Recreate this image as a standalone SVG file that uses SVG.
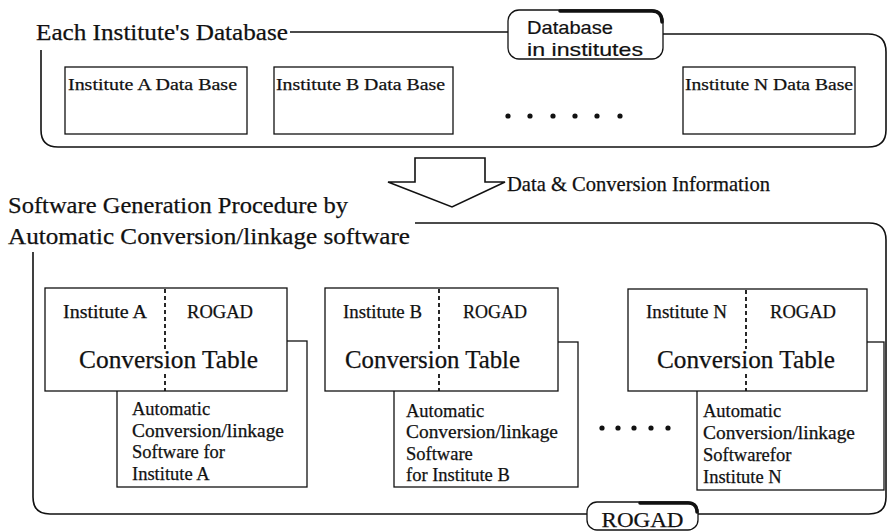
<svg xmlns="http://www.w3.org/2000/svg" width="888" height="532" viewBox="0 0 888 532">
  <style>
    .frame { fill: none; stroke: #111; stroke-width: 1.6; }
    .box { fill: #fff; stroke: #111; stroke-width: 1.3; }
    .thick { fill: none; stroke: #111; stroke-width: 3.5; stroke-linecap: round; }
    .div { fill: none; stroke: #111; stroke-width: 1.8; stroke-dasharray: 4 3; }
    .serif { font-family: "Liberation Serif", "Times New Roman", serif; fill: #111; stroke: #111; stroke-width: 0.25; }
    .sans { font-family: "Liberation Sans", Arial, sans-serif; fill: #111; stroke: #111; stroke-width: 0.2; }
    .title { font-size: 24px; }
    .db { font-size: 17px; }
    .hdr { font-size: 18px; }
    .ct { font-size: 25px; }
    .sw { font-size: 18.5px; }
    .dot { fill: #111; }
  </style>

  <!-- Upper frame: databases held by each institute -->
  <g id="institute-databases">
    <text class="serif title" x="36" y="40" textLength="252" lengthAdjust="spacingAndGlyphs">Each Institute's Database</text>
    <path class="frame" d="M290 32 H508 M663 34 H868 Q886 34 886 52 V130 Q886 147 868 147 H58 Q41 147 41 130 V50"/>
    <g id="label-database-in-institutes">
      <rect class="box" x="508" y="10" width="155" height="49" rx="11"/>
      <path class="thick" d="M560 11 H652 Q662 11 662 22"/>
      <text class="sans" font-size="19" x="527" y="34" textLength="86" lengthAdjust="spacingAndGlyphs">Database</text>
      <text class="sans" font-size="19" x="527" y="56" textLength="116" lengthAdjust="spacingAndGlyphs">in  institutes</text>
    </g>
    <g id="db-a">
      <rect class="box" x="65" y="67" width="182" height="67"/>
      <text class="serif db" x="68" y="90" textLength="169" lengthAdjust="spacingAndGlyphs">Institute A Data Base</text>
    </g>
    <g id="db-b">
      <rect class="box" x="274" y="67" width="179" height="67"/>
      <text class="serif db" x="276" y="90" textLength="169" lengthAdjust="spacingAndGlyphs">Institute B Data Base</text>
    </g>
    <g id="db-ellipsis">
      <circle class="dot" cx="508" cy="116" r="2.6"/>
      <circle class="dot" cx="530" cy="116" r="2.6"/>
      <circle class="dot" cx="553" cy="116" r="2.6"/>
      <circle class="dot" cx="575" cy="116" r="2.6"/>
      <circle class="dot" cx="597" cy="116" r="2.6"/>
      <circle class="dot" cx="620" cy="116" r="2.6"/>
    </g>
    <g id="db-n">
      <rect class="box" x="683" y="67" width="172" height="67"/>
      <text class="serif db" x="685" y="90" textLength="168" lengthAdjust="spacingAndGlyphs">Institute N Data Base</text>
    </g>
  </g>

  <!-- Flow from the databases into the generation procedure -->
  <g id="connectors">
    <polygon fill="#fff" stroke="#111" stroke-width="1.6" stroke-linejoin="miter" points="415,158 485,158 485,182 505,182 452,207 388,182 415,182"/>
    <text class="serif" font-size="21" x="507" y="191" textLength="263" lengthAdjust="spacingAndGlyphs">Data &amp; Conversion Information</text>
  </g>

  <!-- Lower frame: software generation in ROGAD -->
  <g id="generation-procedure">
    <text class="serif title" x="8" y="213" textLength="340" lengthAdjust="spacingAndGlyphs">Software Generation Procedure by</text>
    <text class="serif title" x="8" y="244" textLength="402" lengthAdjust="spacingAndGlyphs">Automatic Conversion/linkage software</text>
    <path class="frame" d="M415 223 H869 Q886 223 886 240 V497 Q886 514 869 514 H698 M587 514 H50 Q33 514 33 497 V252"/>
    <g id="label-rogad">
      <rect class="box" x="587" y="502" width="111" height="28" rx="10"/>
      <path class="thick" d="M640 503 H688 Q697 503 697 512"/>
      <text class="serif" font-size="22" x="642.5" y="527" text-anchor="middle" textLength="82" lengthAdjust="spacingAndGlyphs">ROGAD</text>
    </g>
  </g>

  <g id="software-a">
    <rect class="box" x="117" y="341" width="190" height="146"/>
    <rect class="box" x="45" y="288" width="242" height="103"/>
    <path class="div" d="M165 289 V349 M165 374 V391"/>
    <text class="serif hdr" x="63" y="318" textLength="84" lengthAdjust="spacingAndGlyphs">Institute A</text>
    <text class="serif hdr" x="187" y="318" textLength="66" lengthAdjust="spacingAndGlyphs">ROGAD</text>
    <text class="serif ct" x="79" y="368" textLength="179" lengthAdjust="spacingAndGlyphs">Conversion Table</text>
    <text class="serif sw" x="132" y="415">Automatic</text>
    <text class="serif sw" x="132" y="437" textLength="152" lengthAdjust="spacingAndGlyphs">Conversion/linkage</text>
    <text class="serif sw" x="132" y="458">Software for</text>
    <text class="serif sw" x="132" y="480">Institute A</text>
  </g>

  <g id="software-b">
    <rect class="box" x="394" y="342" width="184" height="145"/>
    <rect class="box" x="325" y="288" width="233" height="103"/>
    <path class="div" d="M439 289 V349 M439 374 V391"/>
    <text class="serif hdr" x="343" y="318" textLength="79" lengthAdjust="spacingAndGlyphs">Institute B</text>
    <text class="serif hdr" x="463" y="318" textLength="64" lengthAdjust="spacingAndGlyphs">ROGAD</text>
    <text class="serif ct" x="345" y="368" textLength="175" lengthAdjust="spacingAndGlyphs">Conversion Table</text>
    <text class="serif sw" x="406" y="417">Automatic</text>
    <text class="serif sw" x="406" y="438" textLength="152" lengthAdjust="spacingAndGlyphs">Conversion/linkage</text>
    <text class="serif sw" x="406" y="460">Software</text>
    <text class="serif sw" x="406" y="481">for Institute B</text>
  </g>

  <g id="software-ellipsis">
    <circle class="dot" cx="602" cy="428" r="2.6"/>
    <circle class="dot" cx="618" cy="428" r="2.6"/>
    <circle class="dot" cx="634" cy="428" r="2.6"/>
    <circle class="dot" cx="651" cy="428" r="2.6"/>
    <circle class="dot" cx="668" cy="428" r="2.6"/>
  </g>

  <g id="software-n">
    <rect class="box" x="697" y="342" width="187" height="148"/>
    <rect class="box" x="628" y="289" width="239" height="102"/>
    <path class="div" d="M746 290 V349 M746 374 V391"/>
    <text class="serif hdr" x="646" y="318" textLength="81" lengthAdjust="spacingAndGlyphs">Institute N</text>
    <text class="serif hdr" x="770" y="318" textLength="66" lengthAdjust="spacingAndGlyphs">ROGAD</text>
    <text class="serif ct" x="657" y="368" textLength="178" lengthAdjust="spacingAndGlyphs">Conversion Table</text>
    <text class="serif sw" x="703" y="417">Automatic</text>
    <text class="serif sw" x="703" y="439" textLength="152" lengthAdjust="spacingAndGlyphs">Conversion/linkage</text>
    <text class="serif sw" x="703" y="461">Softwarefor</text>
    <text class="serif sw" x="703" y="483">Institute N</text>
  </g>
</svg>
